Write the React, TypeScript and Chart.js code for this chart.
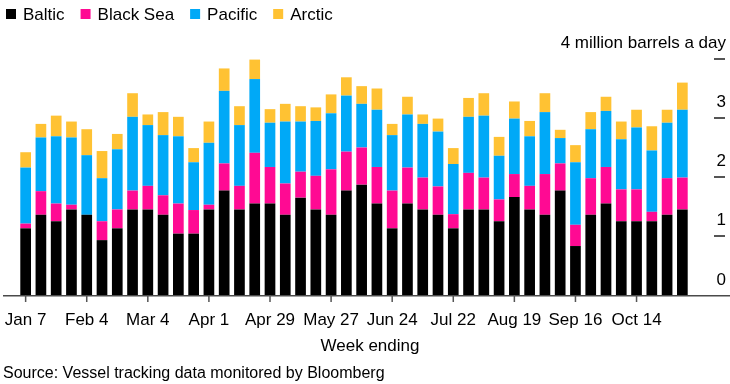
import React, { useEffect, useRef } from "react";
import { Chart, registerables } from "chart.js";

Chart.register(...registerables);

const weeks = [
  "Jan 7", "Jan 14", "Jan 21", "Jan 28", "Feb 4", "Feb 11", "Feb 18", "Feb 25",
  "Mar 4", "Mar 11", "Mar 18", "Mar 25", "Apr 1", "Apr 8", "Apr 15", "Apr 22",
  "Apr 29", "May 6", "May 13", "May 20", "May 27", "Jun 3", "Jun 10", "Jun 17",
  "Jun 24", "Jul 1", "Jul 8", "Jul 15", "Jul 22", "Jul 29", "Aug 5", "Aug 12",
  "Aug 19", "Aug 26", "Sep 2", "Sep 9", "Sep 16", "Sep 23", "Sep 30", "Oct 7",
  "Oct 14", "Oct 21", "Oct 28", "Nov 4",
];

const tickLabels = ["Jan 7", "Feb 4", "Mar 4", "Apr 1", "Apr 29", "May 27", "Jun 24", "Jul 22", "Aug 19", "Sep 16", "Oct 14"];

const baltic = [1.13, 1.36, 1.25, 1.45, 1.36, 0.93, 1.13, 1.45, 1.45, 1.36, 1.04, 1.04, 1.45, 1.77, 1.45, 1.55, 1.55, 1.36, 1.65, 1.45, 1.36, 1.77, 1.87, 1.55, 1.13, 1.55, 1.45, 1.36, 1.13, 1.45, 1.45, 1.25, 1.66, 1.45, 1.36, 1.77, 0.83, 1.36, 1.55, 1.25, 1.25, 1.25, 1.36, 1.45];
const blackSea = [0.08, 0.40, 0.30, 0.08, 0.0, 0.32, 0.32, 0.32, 0.40, 0.33, 0.51, 0.40, 0.08, 0.46, 0.40, 0.86, 0.62, 0.53, 0.44, 0.57, 0.77, 0.66, 0.63, 0.62, 0.64, 0.61, 0.54, 0.48, 0.24, 0.62, 0.54, 0.37, 0.39, 0.40, 0.69, 0.46, 0.36, 0.62, 0.62, 0.54, 0.54, 0.16, 0.62, 0.54];
const pacific = [0.95, 0.91, 1.14, 1.14, 1.01, 0.73, 1.02, 1.25, 1.03, 1.02, 1.14, 0.81, 1.05, 1.23, 1.03, 1.25, 0.75, 1.05, 0.85, 0.93, 0.95, 0.95, 0.74, 0.97, 0.94, 0.90, 0.91, 0.93, 0.85, 0.95, 1.05, 0.74, 0.94, 0.84, 1.05, 0.43, 1.06, 0.83, 0.95, 0.85, 1.05, 1.04, 0.94, 1.15];
const arctic = [0.26, 0.23, 0.35, 0.27, 0.44, 0.46, 0.26, 0.40, 0.18, 0.39, 0.33, 0.24, 0.36, 0.38, 0.32, 0.33, 0.23, 0.30, 0.26, 0.23, 0.32, 0.31, 0.30, 0.36, 0.19, 0.30, 0.16, 0.22, 0.27, 0.32, 0.38, 0.32, 0.29, 0.26, 0.32, 0.14, 0.29, 0.29, 0.24, 0.30, 0.30, 0.41, 0.22, 0.46];

const yTicks = [0, 1, 2, 3, 4];
const yUnit = "million barrels a day";
const xTitle = "Week ending";
const source = "Source: Vessel tracking data monitored by Bloomberg";

const COLORS = ["#000000", "#ff0a93", "#00a9f7", "#ffc233"];
const FONT = '"Liberation Sans", Arial, Helvetica, sans-serif';

const decorPlugin = {
  id: "decor",
  afterDraw(chart: any) {
    const ctx = chart.ctx;
    const xs = chart.scales.x;
    const ys = chart.scales.y;
    const base = ys.getPixelForValue(0);
    ctx.save();
    // baseline
    ctx.fillStyle = "#4a4a4a";
    ctx.fillRect(3, base, 727, 1.5);
    // x ticks and labels
    ctx.font = `17px ${FONT}`;
    ctx.textAlign = "center";
    ctx.textBaseline = "alphabetic";
    weeks.forEach((w, i) => {
      if (tickLabels.indexOf(w) < 0) return;
      const px = xs.getPixelForValue(i);
      ctx.fillStyle = "#555";
      ctx.fillRect(px - 0.75, base, 1.5, 7);
      ctx.fillStyle = "#000";
      ctx.fillText(w, px, base + 30);
    });
    // y ticks and labels
    ctx.textAlign = "right";
    yTicks.forEach((v) => {
      const py = ys.getPixelForValue(v);
      if (v > 0) {
        ctx.fillStyle = "#555";
        ctx.fillRect(714, py - 1, 11, 2);
      }
      ctx.fillStyle = "#000";
      const label = v === yTicks[yTicks.length - 1] ? `${v} ${yUnit}` : `${v}`;
      ctx.fillText(label, 726, py - (v === 0 ? 10 : 11));
    });
    // x title
    ctx.textAlign = "center";
    ctx.fillText(xTitle, 370, 351);
    // source
    ctx.textAlign = "left";
    ctx.font = `16px ${FONT}`;
    ctx.fillText(source, 3, 378);
    // legend
    ctx.font = `17px ${FONT}`;
    let lx = 6;
    chart.data.datasets.forEach((ds: any) => {
      ctx.fillStyle = ds.backgroundColor;
      ctx.fillRect(lx, 9, 10, 10);
      ctx.fillStyle = "#000";
      ctx.fillText(ds.label, lx + 17, 20);
      lx += 17 + ctx.measureText(ds.label).width + 16;
    });
    ctx.restore();
  },
};

export default function App() {
  const ref = useRef<HTMLCanvasElement | null>(null);
  useEffect(() => {
    if (!ref.current) return;
    const chart = new Chart(ref.current, {
      type: "bar",
      data: {
        labels: weeks,
        datasets: [
          { label: "Baltic", data: baltic, backgroundColor: COLORS[0] },
          { label: "Black Sea", data: blackSea, backgroundColor: COLORS[1] },
          { label: "Pacific", data: pacific, backgroundColor: COLORS[2] },
          { label: "Arctic", data: arctic, backgroundColor: COLORS[3] },
        ],
      },
      options: {
        animation: false,
        responsive: false,
        maintainAspectRatio: false,
        layout: { padding: { left: 18, right: 40, top: 59, bottom: 89 } },
        datasets: { bar: { barPercentage: 0.7, categoryPercentage: 1, borderWidth: 0 } },
        plugins: { legend: { display: false }, tooltip: { enabled: false }, title: { display: false } },
        scales: {
          x: { stacked: true, display: false, offset: true },
          y: { stacked: true, display: false, min: 0, max: 4 },
        },
      },
      plugins: [decorPlugin],
    });
    return () => chart.destroy();
  }, []);
  return (
    <div style={{ position: "fixed", left: 0, top: 0, width: 730, height: 384, background: "#fff" }}>
      <canvas ref={ref} width={730} height={384} style={{ width: 730, height: 384, display: "block" }} />
    </div>
  );
}
